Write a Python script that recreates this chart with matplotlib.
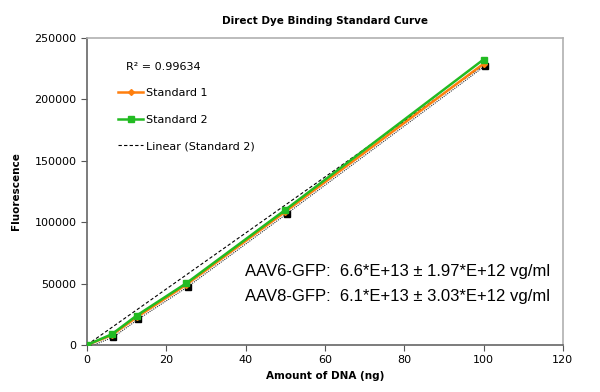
import matplotlib.pyplot as plt
import matplotlib.transforms as mtransforms
import numpy as np

# amount of DNA (ng) and fluorescence readings
dna_ng = [0, 6.25, 12.5, 25, 50, 100]
standard_1 = [0, 8000, 22500, 49000, 108500, 229000]
standard_2 = [0, 8700, 23900, 50200, 110000, 232500]
r_squared = "R² = 0.99634"
titer_lines = ["AAV6-GFP:  6.6*E+13 ± 1.97*E+12 vg/ml",
               "AAV8-GFP:  6.1*E+13 ± 3.03*E+12 vg/ml"]

plt.rcParams['font.family'] = ['DejaVu Sans']

fig = plt.figure(figsize=(6.0, 3.92), dpi=100)
ax = fig.add_axes([0.145, 0.12, 0.793, 0.783])

x = np.array(dna_ng)
y2 = np.array(standard_2)

# shadow markers, offset a little right/down like the original Excel effect
shadow = ax.transData + mtransforms.ScaledTranslation(1.0 / 72, -1.5 / 72, fig.dpi_scale_trans)
ax.plot(x, standard_1, ls='none', marker='s', ms=5, color='black', transform=shadow, zorder=2)
ax.plot(x, standard_1, lw=0.8, color='#333333', transform=shadow, zorder=2, dashes=(1, 1))

ax.plot(x, standard_1, color='#ff7f0e', lw=1.8, marker='D', ms=3, label='Standard 1', zorder=3)
ax.plot(x, standard_2, color='#22bb22', lw=1.8, marker='s', ms=5, label='Standard 2', zorder=4)

# linear trendline through origin
slope = np.sum(x * y2) / np.sum(x * x)
ax.plot(x, slope * x, color='black', lw=0.8, ls=(0, (3, 2)), label='Linear (Standard 2)', zorder=1)

ax.set_xlim(0, 120)
ax.set_ylim(0, 250000)
ax.set_xticks(range(0, 121, 20))
ax.set_yticks(range(0, 250001, 50000))
ax.tick_params(direction='out', length=4, labelsize=8, width=0.8, color='#555555')

for side in ['top', 'right']:
    ax.spines[side].set_color('#b0b0b0')
    ax.spines[side].set_linewidth(1.2)
for side in ['left', 'bottom']:
    ax.spines[side].set_color('#666666')
    ax.spines[side].set_linewidth(1.2)

ax.set_title('Direct Dye Binding Standard Curve', fontsize=7.5, fontweight='bold', pad=10)
ax.set_xlabel('Amount of DNA (ng)', fontsize=7.5, fontweight='bold', labelpad=4)
ax.set_ylabel('Fluorescence', fontsize=7.5, fontweight='bold', labelpad=10)

ax.text(0.081, 0.905, r_squared, transform=ax.transAxes, fontsize=8, va='center')
ax.legend(loc='upper left', bbox_to_anchor=(0.045, 0.87), frameon=False, fontsize=8,
          labelspacing=1.5, handlelength=2.2, handletextpad=0.3)

ax.text(0.332, 0.199, "\n".join(titer_lines), transform=ax.transAxes, fontsize=12,
        family='Liberation Sans', va='center', linespacing=1.8)

fig.savefig('out.png', dpi=100)
